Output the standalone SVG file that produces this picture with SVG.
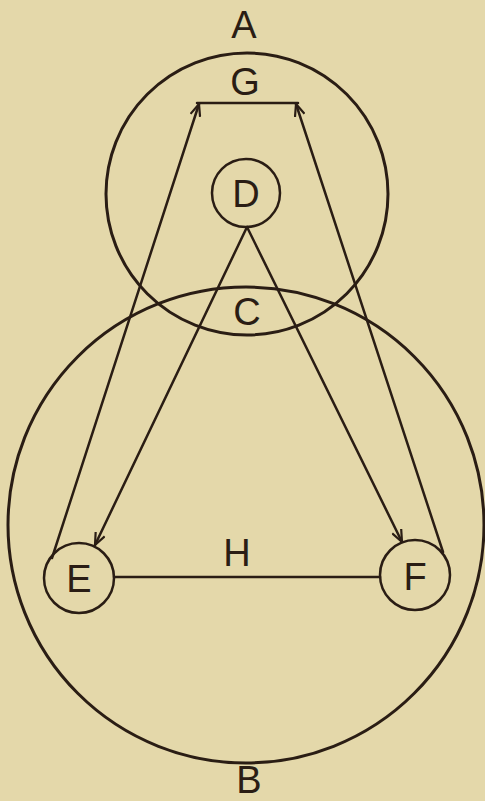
<svg xmlns="http://www.w3.org/2000/svg" width="485" height="801" viewBox="0 0 485 801">
<style>
.bg{fill:#e4d8aa}
.ring{fill:none;stroke:#2a1d14;stroke-width:3}
.node{fill:none;stroke:#2a1d14;stroke-width:2.5}
.ln{fill:none;stroke:#2a1d14;stroke-width:2.5;stroke-linecap:round}
.lbl{font-family:"Liberation Sans",Arial,sans-serif;font-size:38px;fill:#2a1d14;text-anchor:middle}
</style>
<defs>
<marker id="arr" viewBox="0 0 14 12" refX="13" refY="6" markerWidth="14" markerHeight="12" orient="auto" markerUnits="userSpaceOnUse">
<path d="M1,1 L13,6 L1,11" fill="none" stroke="#2a1d14" stroke-width="2.2"/>
</marker>
</defs>
<rect class="bg" x="0" y="0" width="485" height="801"/>
<g id="A">
<circle class="ring" cx="247" cy="194" r="141"/>
<text class="lbl" x="244" y="38">A</text>
</g>
<g id="B">
<circle class="ring" cx="246" cy="525" r="238"/>
<text class="lbl" x="249" y="793">B</text>
</g>
<g id="C">
<text class="lbl" x="247" y="325">C</text>
</g>
<g id="D">
<circle class="node" cx="246" cy="193" r="34"/>
<text class="lbl" x="246" y="207">D</text>
</g>
<g id="E">
<circle class="node" cx="79" cy="578" r="35"/>
<text class="lbl" x="79" y="592">E</text>
</g>
<g id="F">
<circle class="node" cx="415" cy="575" r="35"/>
<text class="lbl" x="415" y="590">F</text>
</g>
<g id="G">
<text class="lbl" x="245" y="95">G</text>
</g>
<g id="H">
<text class="lbl" x="237" y="566">H</text>
</g>
<g id="connectors">
<path class="ln" d="M197,103 L298,103"/>
<path class="ln" d="M114,577 L380,577"/>
<path class="ln" d="M52,558 L199,104" marker-end="url(#arr)"/>
<path class="ln" d="M443,552 L296,104" marker-end="url(#arr)"/>
<path class="ln" d="M247,227 L95,545" marker-end="url(#arr)"/>
<path class="ln" d="M247,227 L402,542" marker-end="url(#arr)"/>
</g>
</svg>
